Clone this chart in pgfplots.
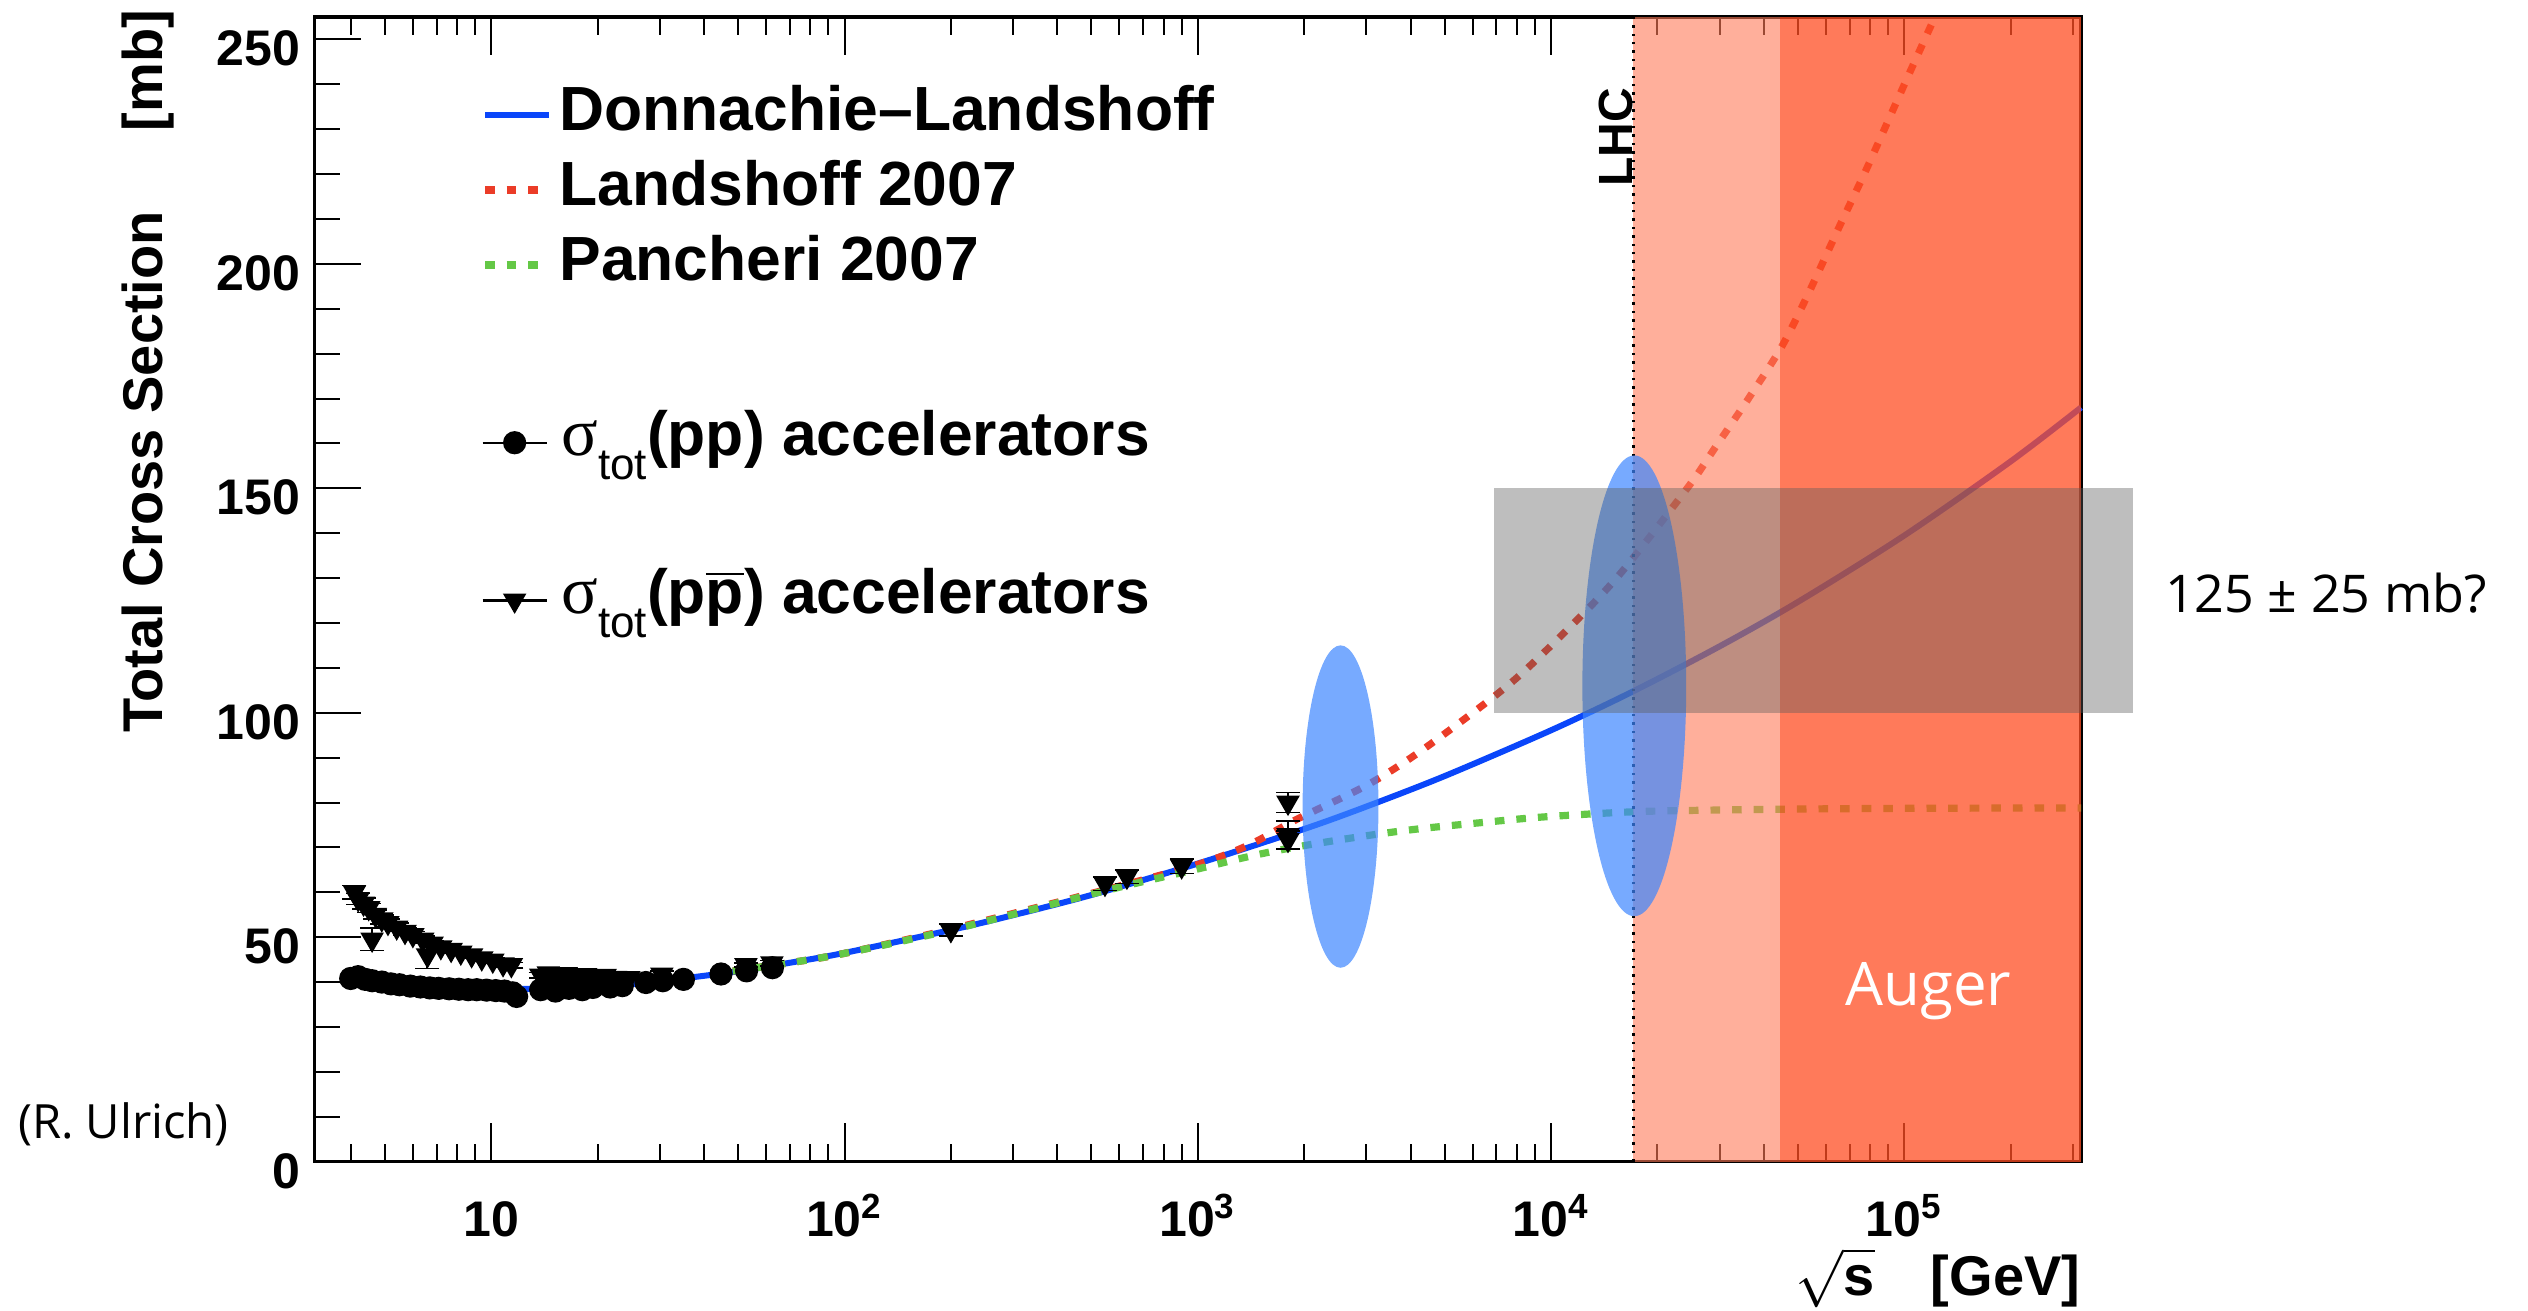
\documentclass[border=0pt]{standalone}
\usepackage{fontspec}
\setmainfont{Liberation Sans}
\newfontfamily\sigmafont{Liberation Serif}
\newfontfamily\notefont{Open Sans}
\usepackage{pgfplots}
\pgfplotsset{compat=1.18}
\usetikzlibrary{calc}

\definecolor{dlblue}{RGB}{10,70,250}
\definecolor{lsred}{RGB}{235,60,40}
\definecolor{pcgreen}{RGB}{100,200,70}
\definecolor{lhcband}{RGB}{255,122,88}
\definecolor{augerband}{RGB}{255,78,35}
\definecolor{ellblue}{RGB}{61,134,255}
\definecolor{boxgray}{RGB}{92,92,92}

\tikzset{dotcurve/.style={line width=1.8pt, line cap=butt, dash pattern=on 2.4pt off 3.0pt}}

\begin{document}
\begin{tikzpicture}
\path[use as bounding box] (0,0) rectangle (632pt,327.5pt);

% main axis: curves, data, bands and x ticks
\begin{axis}[
  at={(78.65pt,37.1pt)}, anchor=south west,
  scale only axis, width=441.6pt, height=286.15pt,
  xmode=log, xmin=3.1623, xmax=316228, ymin=0, ymax=255,
  clip=false,
  axis line style={line width=0.8pt},
  xtick={10,100,1000,10000,100000},
  xticklabels={10,{10\textsuperscript{2}},{10\textsuperscript{3}},{10\textsuperscript{4}},{10\textsuperscript{5}}},
  minor xtick={4,5,6,7,8,9,20,30,40,50,60,70,80,90,200,300,400,500,600,700,800,900,2000,3000,4000,5000,6000,7000,8000,9000,20000,30000,40000,50000,60000,70000,80000,90000,200000,300000},
  xtick pos=both, ytick pos=left,
  major tick length=9.6pt, minor tick length=4.5pt,
  every tick/.style={black, line width=0.5pt},
  ytick={0,50,100,150,200,250},
  yticklabels={0,50,100,150,200,250},
  y tick style={draw=none},
  minor y tick num=0,
  tick label style={font=\fontsize{12.5}{14}\selectfont\bfseries},
  xticklabel style={anchor=base, inner sep=0pt, yshift=-18.6pt},
  yticklabel style={anchor=east, inner sep=0pt, xshift=-3.4pt, yshift=-2.3pt},
  legend style={at={(0.094,0.9413)}, anchor=north west, draw=none, fill=none,
    inner sep=0pt, row sep=3.75pt, column sep=1.7pt,
    font=\fontsize{15.6}{18}\selectfont\bfseries,
    nodes={inner sep=0pt, text height=11.5pt, text depth=3.5pt}},
  legend cell align=left,
  legend image code/.code={\draw[#1] (0pt,0pt) -- (16pt,0pt);},
]

% Donnachie-Landshoff
\addplot[dlblue, line width=1.5pt, smooth] coordinates {
 (10,38.5) (15,38.5) (20,38.9) (30,40.2) (50,42.4) (70,44.3) (100,46.5)
 (200,51.6) (300,54.9) (500,59.4) (1000,66.4) (2000,74.1) (3000,79.1)
 (5000,85.9) (10000,96.1) (17000,104.7) (30000,114.8) (50000,124.7)
 (100000,139.5) (200000,156) (316228,168)};
\addlegendentry{Donnachie--Landshoff}

% Landshoff 2007
\addplot[lsred, dotcurve, smooth] coordinates {
 (42,41.8) (70,44.3) (100,46.4) (200,51.8) (550,60.6) (1000,66.2) (1400,70.6)
 (1900,76.2) (3000,83.8) (4300,91.6) (7100,104.4) (9200,112.2) (13400,125)
 (16800,133.8) (24700,150.8) (29200,159.2) (36200,170) (44900,181.5)
 (53200,193) (65900,208.8) (78300,221.3) (102000,241.5) (122000,255)};
\addlegendentry{Landshoff 2007}

% Pancheri 2007
\addplot[pcgreen, dotcurve, smooth] coordinates {
 (42,41.8) (70,44.3) (100,46.4) (200,51.6) (550,60.4) (1000,65.2) (1400,68)
 (1900,70.1) (3000,72.6) (4300,74.2) (6500,75.6) (9200,76.7) (14000,77.6)
 (20000,78.1) (44000,78.5) (100000,78.7) (316228,78.8)};
\addlegendentry{Pancheri 2007}

% sigma_tot(pp)
\addplot[forget plot, black, only marks, mark=*, mark size=2.7pt,
  error bars/.cd, y dir=both, y explicit, error bar style={line width=0.5pt}]
  table[row sep=\\, x index=0, y index=1, y error index=2] {
 x y e\\
 4.0 40.8 0.6\\ 4.2 41.2 0.6\\ 4.4 40.6 0.5\\ 4.6 40.3 0.5\\ 4.9 40.0 0.4\\
 5.2 39.6 0.4\\ 5.5 39.4 0.4\\ 5.9 39.1 0.3\\ 6.3 38.9 0.3\\ 6.7 38.7 0.3\\
 7.1 38.6 0.3\\ 7.6 38.5 0.3\\ 8.1 38.4 0.3\\ 8.6 38.3 0.3\\ 9.1 38.3 0.3\\
 9.7 38.2 0.3\\ 10.3 38.1 0.3\\ 10.9 38.0 0.3\\ 11.5 37.6 0.3\\ 11.8 36.8 0.4\\
 13.8 38.3 0.3\\ 15.2 38.0 0.3\\ 16.6 38.6 0.3\\ 18.1 38.3 0.3\\ 19.4 38.8 0.3\\
 21.7 38.9 0.3\\ 23.5 39.2 0.3\\ 27.4 39.9 0.3\\ 30.6 40.3 0.3\\ 35.0 40.6 0.3\\
 44.7 41.8 0.4\\ 52.8 42.5 0.4\\ 62.5 43.2 0.4\\
};

% sigma_tot(p pbar)
\addplot[forget plot, black, only marks, mark=triangle*, mark size=3.0pt,
  mark options={rotate=180},
  error bars/.cd, y dir=both, y explicit, error bar style={line width=0.5pt}]
  table[row sep=\\, x index=0, y index=1, y error index=2] {
 x y e\\
 4.1 60.0 1.5\\ 4.2 58.5 1.2\\ 4.35 57.5 1.2\\ 4.5 56.5 1.0\\ 4.6 49.5 2.5\\
 4.7 55.0 1.0\\ 4.9 54.0 1.0\\ 5.1 53.2 0.9\\ 5.4 52.2 0.9\\ 5.7 51.2 0.8\\
 6.0 50.5 0.8\\ 6.4 49.5 0.8\\ 6.6 46.0 3.0\\ 6.8 48.6 0.7\\ 7.2 47.8 0.7\\
 7.7 47.2 0.7\\ 8.2 46.6 0.6\\ 8.8 46.0 0.6\\ 9.4 45.3 0.6\\ 10.1 44.8 0.6\\
 10.8 44.0 0.6\\ 11.4 43.8 0.6\\ 13.8 41.5 0.6\\ 14.5 42.0 0.6\\ 15.3 40.8 0.6\\
 16.3 41.8 0.5\\ 17.3 41.0 0.5\\ 18.5 41.6 0.5\\ 19.6 40.9 0.5\\ 21.0 41.4 0.5\\
 22.5 41.0 0.5\\ 24.5 40.9 0.5\\ 30.4 41.7 0.8\\ 52.6 43.8 0.5\\ 62.3 44.2 0.6\\
 200 51.6 1.3\\ 546 61.9 1.5\\ 630 63.5 1.5\\ 900 65.8 1.6\\
 1800 80.0 2.2\\ 1800 72.8 3.1\\ 1800 71.7 2.0\\
};

% energy bands above the LHC and the Auger range
\addplot[forget plot, draw=none, fill=lhcband, fill opacity=0.6]
  coordinates {(17100,0) (44500,0) (44500,255) (17100,255)} -- cycle;
\addplot[forget plot, draw=none, fill=augerband, fill opacity=0.75]
  coordinates {(44500,0) (316228,0) (316228,255) (44500,255)} -- cycle;

% LHC energy
\addplot[forget plot, black, line width=0.7pt, dash pattern=on 0.6pt off 1.5pt]
  coordinates {(17100,0) (17100,255)};

% uncertainty ellipses
\fill[ellblue, fill opacity=0.7] (axis cs:2535,79.1) ellipse [x radius=9.48pt, y radius=40.3pt];
\fill[ellblue, fill opacity=0.7] (axis cs:17200,106) ellipse [x radius=12.98pt, y radius=57.6pt];

% cosmic-ray estimate
\addplot[forget plot, draw=none, fill=boxgray, fill opacity=0.4]
  coordinates {(6900,100) (443000,100) (443000,150) (6900,150)} -- cycle;

% annotations
\node[rotate=90, anchor=south east, inner sep=0pt, xshift=-5.5pt,
  font=\fontsize{12}{14}\selectfont\bfseries] at (axis cs:17100,244.2) {LHC};
\node[text=white, font=\notefont\fontsize{15}{18}\selectfont] at (axis cs:117000,38) {Auger};
\node[font=\notefont\fontsize{13}{15}\selectfont] at (axis cs:1.56e6,126.6) {125 ± 25 mb?};
\node[font=\notefont\fontsize{11.8}{14}\selectfont] at (axis cs:0.91,8.4) {(R. Ulrich)};

% axis titles
\node[rotate=90, anchor=base east, inner sep=0pt, font=\fontsize{14}{17}\selectfont\bfseries]
  at ($(rel axis cs:0,1)+(-38pt,2pt)$) {Total Cross Section\hspace{20pt}[mb]};
\node[anchor=base east, inner sep=0pt, font=\fontsize{14}{17}\selectfont\bfseries]
  at ($(rel axis cs:1,0)+(0pt,-33.5pt)$) {$\sqrt{\mbox{s}}$\hspace{14pt}[GeV]};
\end{axis}

% overlay axis: y ticks and the data legend
\begin{axis}[
  at={(78.65pt,37.1pt)}, anchor=south west,
  scale only axis, width=441.6pt, height=286.15pt,
  xmode=log, xmin=3.1623, xmax=316228, ymin=0, ymax=255,
  axis line style={draw=none},
  xtick=\empty, xminorticks=false,
  ytick={0,50,100,150,200,250}, yticklabels={},
  minor y tick num=4, ytick pos=left,
  major tick length=11.75pt, minor tick length=6.25pt,
  every tick/.style={black, line width=0.5pt},
  legend style={at={(0.094,0.6576)}, anchor=north west, draw=none, fill=none,
    inner sep=0pt, row sep=22.9pt, column sep=3.4pt,
    font=\fontsize{15.6}{18}\selectfont\bfseries,
    nodes={inner sep=0pt, text height=11.5pt, text depth=5pt}},
  legend cell align=left,
  legend image code/.code={\draw[mark repeat=2, mark phase=2, #1]
    plot coordinates {(0pt,0pt) (8pt,0pt) (16pt,0pt)};},
]
\addlegendimage{black, line width=0.6pt, mark=*, mark size=2.6pt}
\addlegendentry{{\fontsize{17}{17}\selectfont\sigmafont\mdseries σ}\raisebox{-6pt}{\fontsize{11}{11}\selectfont\mdseries tot}(pp) accelerators}
\addlegendimage{black, line width=0.6pt, mark=triangle*, mark size=2.8pt, mark options={rotate=180}}
\addlegendentry{{\fontsize{17}{17}\selectfont\sigmafont\mdseries σ}\raisebox{-6pt}{\fontsize{11}{11}\selectfont\mdseries tot}(p$\overline{\mbox{p}}$) accelerators}
\end{axis}
\end{tikzpicture}
\end{document}
